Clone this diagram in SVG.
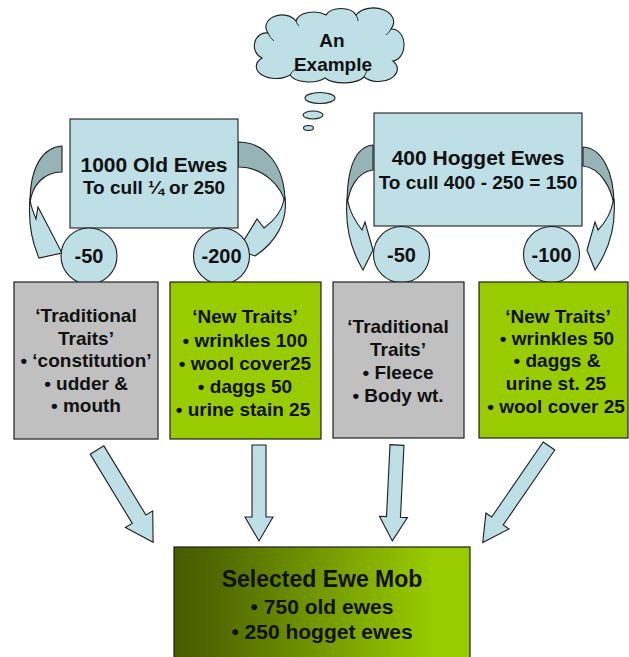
<svg xmlns="http://www.w3.org/2000/svg" width="629" height="657" viewBox="0 0 629 657">
  <defs>
    <style>
      .lb { fill: #BDDFE5; stroke: #1e1e1e; stroke-width: 1.1; }
      .dk { fill: #96B4B6; stroke: #1e1e1e; stroke-width: 1.1; }
      .gray { fill: #C0C0C0; stroke: #1e1e1e; stroke-width: 1.2; }
      .green { fill: #99CC00; stroke: #1e1e1e; stroke-width: 1.2; }
      text { font-family: "Liberation Sans", Arial, sans-serif; font-weight: bold; fill: #111; text-anchor: middle; }
      .t19 { font-size: 19px; }
      .t20 { font-size: 20px; }
      .t21 { font-size: 21px; }
      .t23 { font-size: 23px; }
    </style>
    <linearGradient id="mobFill" x1="0" y1="0" x2="1" y2="0">
      <stop offset="0" stop-color="#485C00"/>
      <stop offset="0.12" stop-color="#4E6600"/>
      <stop offset="0.88" stop-color="#99CC00"/>
      <stop offset="1" stop-color="#99CC00"/>
    </linearGradient>
    <!-- straight block arrow pointing down, tail at origin -->
    <polygon id="blockA" points="-8,0 8,0 8,81 16,81 0,108 -16,81 -8,81"/>
    <polygon id="blockB" points="-7,0 7,0 7,72 14,72 0,96 -14,72 -7,72"/>
    <polygon id="blockC" points="-7,0 7,0 7,91 14,91 0,117 -14,91 -7,91"/>
  </defs>

  <!-- thought cloud -->
  <g id="cloud">
    <path class="lb" d="M262,58 A12,13 0 0 1 268,33 A16,12 0 0 1 296,21 A18,11 0 0 1 326,15 A16,10 0 0 1 356,15 A20,14 0 0 1 391,29 A12,16 0 0 1 393,61 A18,12 0 0 1 364,77 A22,10 0 0 1 325,78 A20,10 0 0 1 290,75 A18,11 0 0 1 262,58 Z"/>
    <path d="M268,33 Q270,38 274,41 M296,21 Q297,24 299,26 M356,15 Q358,18 358,21 M391,29 Q389,33 386,35 M364,77 Q366,71 370,68 M290,75 Q292,71 296,69" fill="none" stroke="#1e1e1e" stroke-width="0.9"/>
    <text class="t19" x="332" y="47">An</text>
    <text class="t19" x="333" y="71">Example</text>
    <ellipse class="lb" cx="320" cy="98" rx="15" ry="5.5"/>
    <ellipse class="lb" cx="313" cy="115" rx="10" ry="4"/>
    <ellipse class="lb" cx="308.5" cy="128" rx="5" ry="2.5"/>
  </g>

  <!-- connectors: curved cull arrows and block arrows into the mob -->
  <g id="connectors">
    <!-- old ewes, left -->
    <path class="dk" d="M62,146 C44,147 30,165 30,203 C32,185 44,172 62,172 Z"/>
    <path class="lb" d="M30,198 C28,222 31,240 39,258 L62,253 L38,207 L36,219 C33,212 31,206 30,200 Z"/>
    <!-- old ewes, right -->
    <path class="dk" d="M238,142 C265,142 285,165 285,203 C282,188 265,167 238,167 Z"/>
    <path class="lb" d="M285,198 C288,222 275,243 255,256 L238,250 L257,219 L264,228 C275,220 282,210 284,200 Z"/>
    <!-- hoggets, left -->
    <path class="dk" d="M373,145 C355,147 347,170 347,205 C349,190 356,172 373,170 Z"/>
    <path class="lb" d="M347,200 C345,226 351,250 363,270 L373,250 L365,222 L362,230 C355,221 350,212 348,202 Z"/>
    <!-- hoggets, right -->
    <path class="dk" d="M583,147 C601,148 614,170 614,205 C611,188 601,168 583,166 Z"/>
    <path class="lb" d="M614,200 C616,226 609,250 595,270 L587,250 L595,222 L598,230 C606,222 611,212 613,202 Z"/>

    <use href="#blockA" class="lb" transform="translate(97,450) rotate(-31.3)"/>
    <use href="#blockB" class="lb" transform="translate(259,445)"/>
    <use href="#blockB" class="lb" transform="translate(397,445) rotate(2.8)"/>
    <use href="#blockC" class="lb" transform="translate(549,446) rotate(34.5)"/>
  </g>

  <g id="old-ewes">
    <rect class="lb" x="70" y="119" width="168" height="109"/>
    <text class="t21" x="154" y="172">1000 Old Ewes</text>
    <text class="t19" x="154" y="194">To cull ¼ or 250</text>
  </g>

  <g id="hogget-ewes">
    <rect class="lb" x="374" y="113" width="208" height="113"/>
    <text class="t21" x="478" y="165">400 Hogget Ewes</text>
    <text class="t19" x="478" y="189">To cull 400 - 250 = 150</text>
  </g>

  <g id="cull-old-traditional">
    <circle class="lb" cx="89" cy="256" r="28"/>
    <text class="t20" x="89" y="263">-50</text>
  </g>
  <g id="cull-old-new">
    <circle class="lb" cx="221.5" cy="256" r="28"/>
    <text class="t20" x="221.5" y="263">-200</text>
  </g>
  <g id="cull-hogget-traditional">
    <circle class="lb" cx="401.5" cy="254.5" r="28"/>
    <text class="t20" x="401.5" y="261.5">-50</text>
  </g>
  <g id="cull-hogget-new">
    <circle class="lb" cx="551.5" cy="254.5" r="28"/>
    <text class="t20" x="551.5" y="261.5">-100</text>
  </g>

  <g id="old-traditional-traits">
    <rect class="gray" x="14" y="282" width="144" height="157"/>
    <text class="t19" x="86" y="322">‘Traditional</text>
    <text class="t19" x="86" y="344.5">Traits’</text>
    <text class="t19" x="86" y="367">• ‘constitution’</text>
    <text class="t19" x="86" y="389.5">• udder &amp;</text>
    <text class="t19" x="86" y="412">• mouth</text>
  </g>

  <g id="old-new-traits">
    <rect class="green" x="170" y="282" width="151" height="157"/>
    <text class="t19" x="245" y="323">‘New Traits’</text>
    <text class="t19" x="245" y="347">• wrinkles 100</text>
    <text class="t19" x="245" y="370">• wool cover25</text>
    <text class="t19" x="245" y="393">• daggs 50</text>
    <text class="t19" x="243" y="416">• urine stain 25</text>
  </g>

  <g id="hogget-traditional-traits">
    <rect class="gray" x="333" y="282" width="131" height="156"/>
    <text class="t19" x="398" y="333">‘Traditional</text>
    <text class="t19" x="398" y="356">Traits’</text>
    <text class="t19" x="398" y="379">• Fleece</text>
    <text class="t19" x="398" y="402">• Body wt.</text>
  </g>

  <g id="hogget-new-traits">
    <rect class="green" x="479" y="282" width="149" height="156"/>
    <text class="t19" x="558" y="323">‘New Traits’</text>
    <text class="t19" x="557" y="344.5">• wrinkles 50</text>
    <text class="t19" x="557" y="367">• daggs &amp;</text>
    <text class="t19" x="556" y="390">urine st. 25</text>
    <text class="t19" x="556" y="413">• wool cover 25</text>
  </g>

  <g id="selected-mob">
    <rect x="174" y="547" width="296" height="115" fill="url(#mobFill)" stroke="#1e1e1e" stroke-width="1.2"/>
    <text class="t23" x="322" y="587">Selected Ewe Mob</text>
    <text class="t21" x="322" y="614">• 750 old ewes</text>
    <text class="t21" x="322" y="639">• 250 hogget ewes</text>
  </g>
</svg>
